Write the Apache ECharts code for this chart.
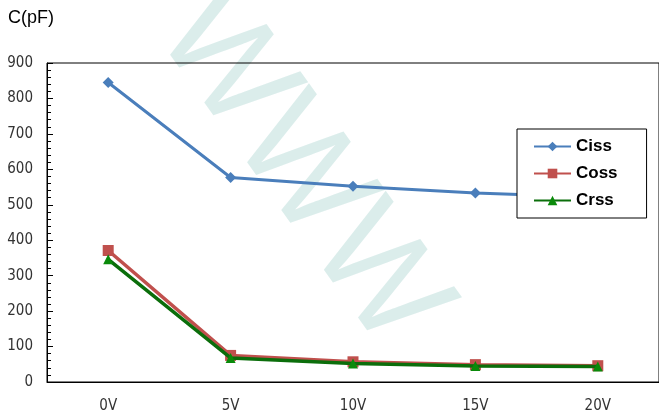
<!DOCTYPE html>
<html><head><meta charset="utf-8">
<script src="https://cdn.jsdelivr.net/npm/echarts@6/dist/echarts.min.js"></script>
<style>html,body{margin:0;padding:0;background:#fff}#c{width:659px;height:419px}</style>
</head><body><div id="c"></div>
<script>
const categories = ['0V','5V','10V','15V','20V'];
const ciss = [845, 577, 552, 533, 521];
const coss = [371, 75, 57, 49, 46];
const crss = [346, 68, 52, 45, 44];
const yTicks = [0,100,200,300,400,500,600,700,800,900];

const chart = echarts.init(document.getElementById('c'));
const labelFont = '"Liberation Sans Narrow","DejaVu Sans Condensed",sans-serif';
chart.setOption({
  animation: false,
  backgroundColor: '#fff',
  graphic: [
    {type:'text', left: 8, top: 9, style:{text:'C(pF)', font:'18px "Liberation Sans", Arial, sans-serif', fill:'#000'}},
    {type:'text', x: 300, y: 170, rotation: -0.95, z: -1, silent: true,
     style:{text:'WWW', font:'140px "Liberation Sans", Arial, sans-serif', fill:'rgba(175,215,210,0.45)', align:'center', verticalAlign:'middle'}}
  ],
  grid: {left: 47, top: 63, width: 618, height: 319, show: true, borderColor: '#000', borderWidth: 1, backgroundColor: 'transparent'},
  legend: {
    orient: 'vertical', left: 517, top: 129,
    backgroundColor: '#fff', borderColor: '#000', borderWidth: 1,
    padding: [9, 29, 9, 16], itemGap: 10, itemWidth: 37, itemHeight: 12,
    textStyle: {fontFamily: '"Liberation Sans", Arial, sans-serif', fontWeight: 'bold', fontSize: 17, color: '#000'},
    data: ['Ciss','Coss','Crss']
  },
  xAxis: {
    type: 'category', data: categories, boundaryGap: true,
    axisLine: {lineStyle: {color: '#000', width: 1}},
    axisTick: {inside: true, alignWithLabel: true, length: 5, lineStyle: {color: '#000'}},
    axisLabel: {margin: 17, fontFamily: labelFont, fontSize: 15, color: '#333'}
  },
  yAxis: {
    type: 'value', min: 0, max: 900, interval: 100,
    axisLine: {show: true, lineStyle: {color: '#000', width: 1}},
    axisTick: {show: true, inside: true, length: 6, lineStyle: {color: '#000'}},
    minorTick: {show: true, splitNumber: 5, length: 4, lineStyle: {color: '#000'}},
    splitLine: {show: false},
    axisLabel: {margin: 14, fontFamily: labelFont, fontSize: 15, color: '#333',
      formatter: v => yTicks.indexOf(v) >= 0 ? String(v) : ''}
  },
  series: [
    {name: 'Ciss', type: 'line', data: ciss, symbol: 'diamond', symbolSize: 11,
     lineStyle: {color: '#4a7ebb', width: 3}, itemStyle: {color: '#4a7ebb'}, z: 3},
    {name: 'Coss', type: 'line', data: coss, symbol: 'rect', symbolSize: 11,
     lineStyle: {color: '#c0504d', width: 3.5}, itemStyle: {color: '#c0504d'}, z: 4},
    {name: 'Crss', type: 'line', data: crss, symbol: 'triangle', symbolSize: 10,
     lineStyle: {color: '#0b6e0b', width: 3.5}, itemStyle: {color: '#0a8a0a'}, z: 5}
  ]
});
</script></body></html>
